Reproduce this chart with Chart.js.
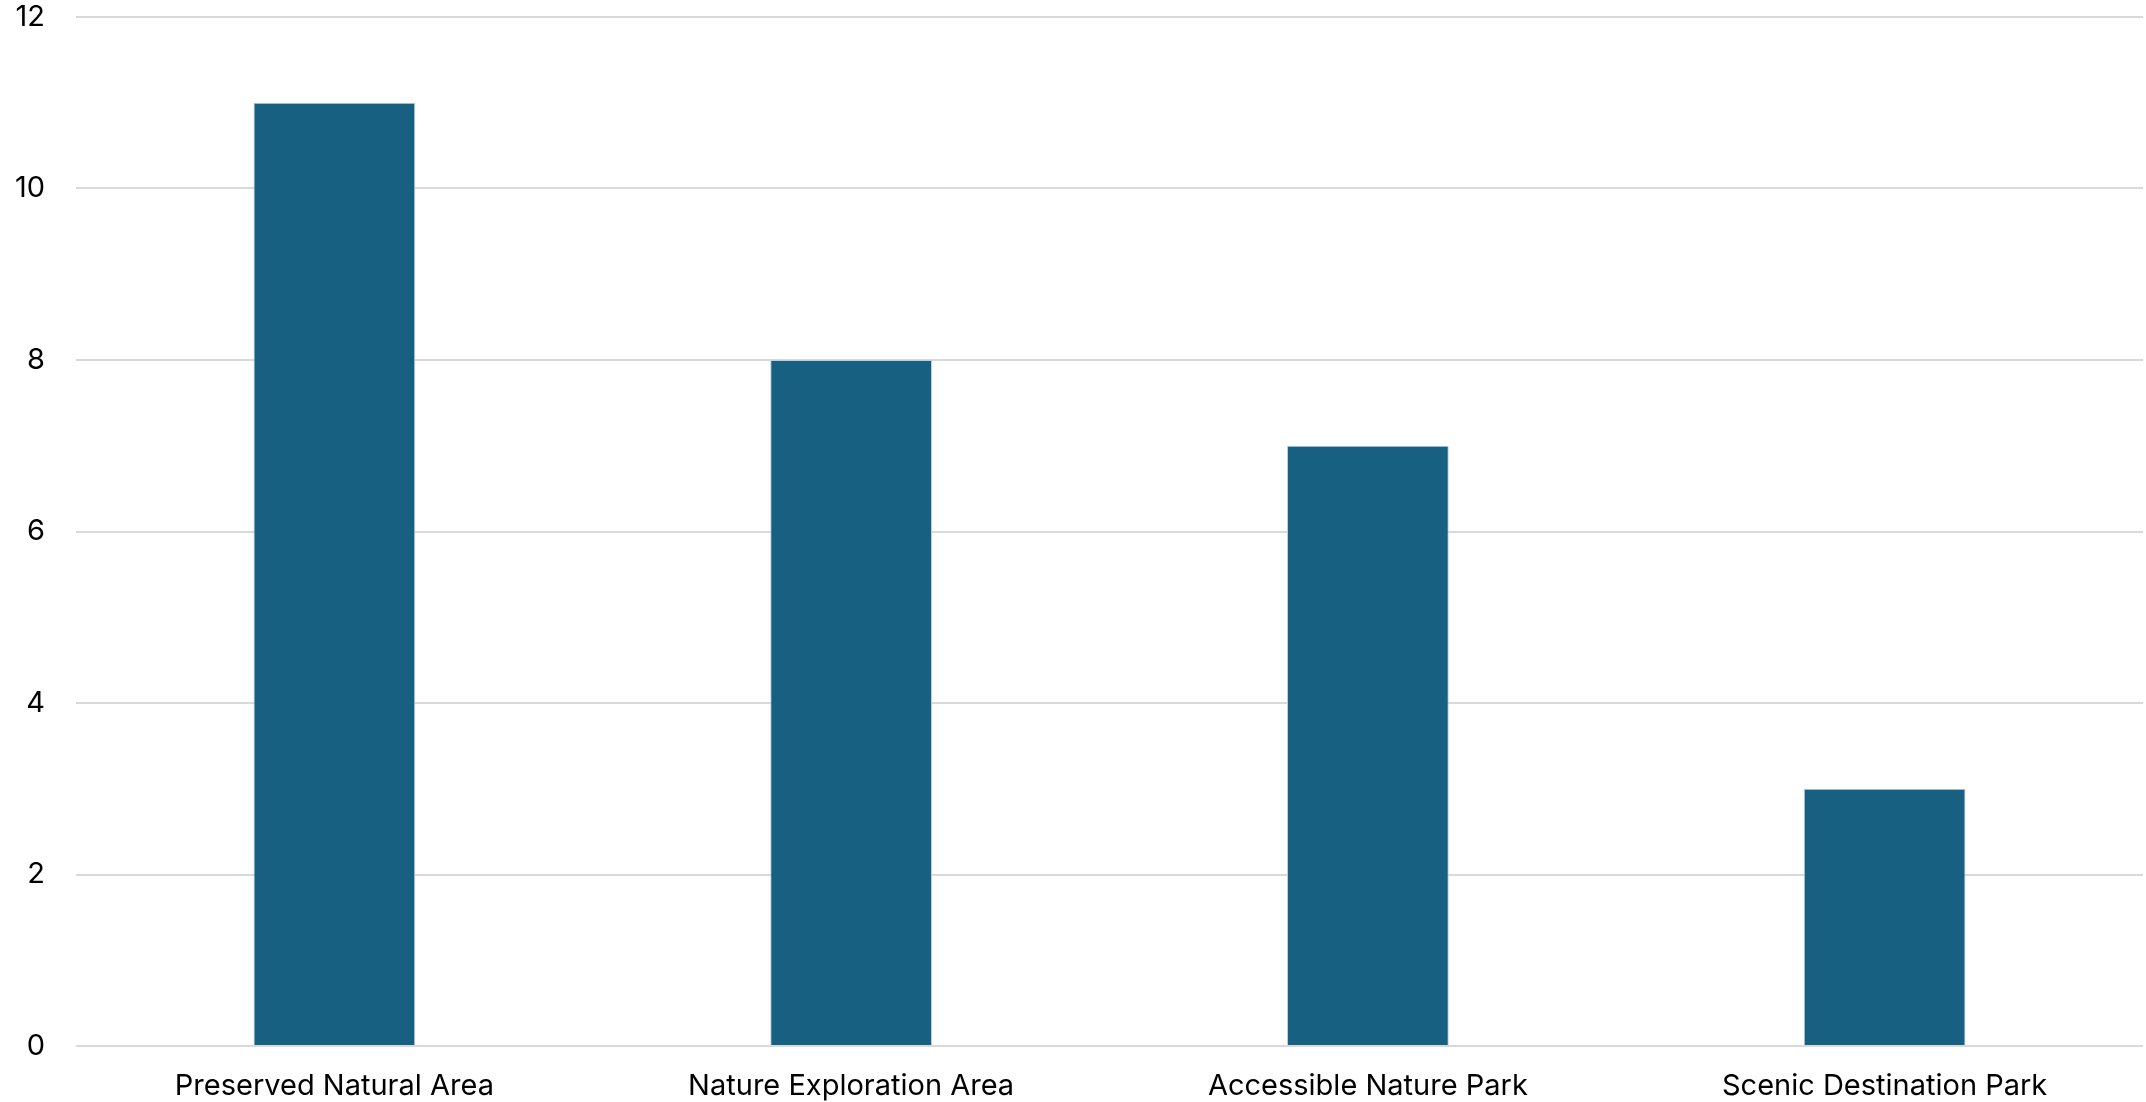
<!DOCTYPE html>
<html>
<head>
<meta charset="utf-8">
<script src="https://cdn.jsdelivr.net/npm/chart.js@4/dist/chart.umd.min.js"></script>
<style>
  html, body { margin: 0; padding: 0; background: #fff; }
  #wrap { width: 2146px; height: 1102px; }
</style>
</head>
<body>
<div id="wrap"><canvas id="myChart" width="2146" height="1102"></canvas></div>
<script>
	var categories = [ 'Preserved Natural Area', 'Nature Exploration Area', 'Accessible Nature Park', 'Scenic Destination Park' ];
	var counts = [ 11, 8, 7, 3 ];
	var yTicks = [ 0, 2, 4, 6, 8, 10, 12 ];

	var ctx = document.getElementById('myChart');
	var myChart = new Chart(ctx, {
		type : 'bar',
		data : {
			labels : categories,
			datasets : [ {
				label : 'Count',
				data : counts,
				backgroundColor : '#176082',
				borderColor : '#b9cfdb',
				borderWidth : 1,
				categoryPercentage : 0.313,
				barPercentage : 1.0
			} ]
		},
		options : {
			responsive : false,
			animation : false,
			devicePixelRatio : 1,
			layout : { padding : { top : 17, right : 3, left : 0, bottom : 0 } },
			plugins : {
				legend : { display : false },
				tooltip : { enabled : false }
			},
			scales : {
				x : {
					grid : { display : false, drawTicks : false },
					border : { display : false },
					ticks : {
						color : '#000',
						padding : 23,
						maxRotation : 0,
						font : { family : 'Inter', size : 29 }
					},
					afterFit : function(scale) {
						scale.height = 56;
						scale.paddingLeft = 0;
						scale.paddingRight = 0;
					}
				},
				y : {
					min : 0,
					max : 12,
					afterBuildTicks : function(scale) {
						scale.ticks = yTicks.map(function(v) { return { value : v }; });
					},
					grid : { color : '#d9d9d9', lineWidth : 2, drawTicks : false },
					border : { display : false },
					ticks : {
						color : '#000',
						padding : 31,
						font : { family : 'Inter', size : 29 }
					},
					afterFit : function(scale) {
						scale.width = 76;
						scale.paddingTop = 0;
						scale.paddingBottom = 0;
					}
				}
			}
		}
	});
</script>
</body>
</html>
